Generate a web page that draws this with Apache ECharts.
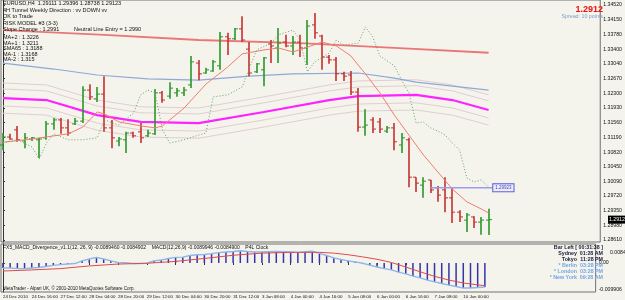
<!DOCTYPE html>
<html>
<head>
<meta charset="utf-8">
<script src="https://cdn.jsdelivr.net/npm/echarts@6/dist/echarts.min.js"></script>
<style>
html, body { margin: 0; padding: 0; background: #f4f4ec; }
#chart { width: 625px; height: 300px; }
</style>
</head>
<body>
<div id="chart"></div>
<script>
// EURUSD H4, 24 Dec 2010 - 10 Jan 2011
var timeTickBars = [0, 4, 8, 12, 16, 20, 24, 28, 32, 36, 40, 44, 48, 52, 56, 60, 64];
var timeLabels = ["24 Dec 2010", "24 Dec 16:00", "27 Dec 12:00", "28 Dec 04:00", "28 Dec 20:00",
  "29 Dec 12:00", "30 Dec 04:00", "30 Dec 20:00", "31 Dec 12:00", "3 Jan 08:00", "4 Jan 00:00",
  "4 Jan 16:00", "5 Jan 08:00", "6 Jan 00:00", "6 Jan 16:00", "7 Jan 08:00", "10 Jan 00:00"];
var priceTicks = [1.34520, 1.34150, 1.33780, 1.33400, 1.33040, 1.32670, 1.32300, 1.31930, 1.31560,
  1.31190, 1.30820, 1.30450, 1.30090, 1.29720, 1.29350, 1.28980, 1.28610];

var barOpen = [1.3100, 1.3120, 1.3138, 1.3110, 1.3115, 1.3113, 1.3118, 1.3153, 1.3163, 1.3143,
  1.3153, 1.3160, 1.3238, 1.3216, 1.3228, 1.3143, 1.3110, 1.3113, 1.3130, 1.3133,
  1.3123, 1.3128, 1.3231, 1.3223, 1.3231, 1.3231, 1.3251, 1.3306, 1.3281, 1.3286,
  1.3299, 1.3372, 1.3367, 1.3392, 1.3341, 1.3284, 1.3289, 1.3354, 1.3344, 1.3359,
  1.3349, 1.3359, 1.3344, 1.3402, 1.3374, 1.3321, 1.3314, 1.3279, 1.3276, 1.3233,
  1.3145, 1.3163, 1.3158, 1.3135, 1.3143, 1.3100, 1.3113, 1.3019, 1.2999, 1.3012,
  1.2992, 1.2987, 1.2967, 1.2931, 1.2911, 1.2919, 1.2906, 1.29111];
var barHigh = [1.3130, 1.3128, 1.3148, 1.3130, 1.3120, 1.3118, 1.3160, 1.3168, 1.3168, 1.3165,
  1.3168, 1.3248, 1.3253, 1.3246, 1.3273, 1.3163, 1.3120, 1.3133, 1.3133, 1.3155,
  1.3138, 1.3241, 1.3236, 1.3258, 1.3243, 1.3246, 1.3324, 1.3314, 1.3294, 1.3314,
  1.3384, 1.3382, 1.3394, 1.3424, 1.3359, 1.3306, 1.3321, 1.3364, 1.3394, 1.3377,
  1.3374, 1.3377, 1.3414, 1.3432, 1.3377, 1.3326, 1.3321, 1.3284, 1.3286, 1.3243,
  1.3190, 1.3170, 1.3168, 1.3148, 1.3155, 1.3130, 1.3118, 1.3019, 1.3019, 1.3012,
  1.2997, 1.3019, 1.2994, 1.2936, 1.2929, 1.2921, 1.2919, 1.29396];
var barLow = [1.3087, 1.3113, 1.3108, 1.3092, 1.3110, 1.3067, 1.3113, 1.3138, 1.3128, 1.3123,
  1.3150, 1.3155, 1.3213, 1.3208, 1.3133, 1.3092, 1.3097, 1.3080, 1.3118, 1.3105,
  1.3120, 1.3125, 1.3206, 1.3216, 1.3221, 1.3223, 1.3243, 1.3263, 1.3279, 1.3284,
  1.3289, 1.3326, 1.3364, 1.3359, 1.3273, 1.3281, 1.3248, 1.3306, 1.3306, 1.3346,
  1.3326, 1.3321, 1.3301, 1.3367, 1.3289, 1.3304, 1.3261, 1.3261, 1.3226, 1.3133,
  1.3123, 1.3130, 1.3130, 1.3130, 1.3087, 1.3080, 1.2994, 1.2982, 1.2967, 1.2979,
  1.2957, 1.2931, 1.2904, 1.2906, 1.2881, 1.2891, 1.2874, 1.28738];
var barClose = [1.3120, 1.3115, 1.3113, 1.3118, 1.3118, 1.3115, 1.3153, 1.3163, 1.3143, 1.3130,
  1.3160, 1.3238, 1.3221, 1.3228, 1.3143, 1.3118, 1.3115, 1.3130, 1.3123, 1.3118,
  1.3130, 1.3231, 1.3213, 1.3243, 1.3236, 1.3238, 1.3309, 1.3279, 1.3289, 1.3309,
  1.3372, 1.3367, 1.3392, 1.3364, 1.3281, 1.3304, 1.3319, 1.3349, 1.3356, 1.3349,
  1.3359, 1.3344, 1.3399, 1.3382, 1.3321, 1.3314, 1.3279, 1.3273, 1.3233, 1.3145,
  1.3150, 1.3140, 1.3140, 1.3143, 1.3108, 1.3118, 1.3019, 1.3004, 1.3009, 1.2987,
  1.2974, 1.2967, 1.2931, 1.2919, 1.2924, 1.2906, 1.2911, 1.29123];

// indicator lines, [bar, price]
var slowMa = [[0, 1.3389], [14, 1.3377], [27, 1.3364], [41, 1.3356], [54, 1.3344], [67, 1.3332]];
var blueMa = [[0, 1.3306], [7, 1.3291], [13, 1.3276], [20, 1.3266], [27, 1.3263], [34, 1.3273],
  [40, 1.3279], [49, 1.3281], [54, 1.3268], [57, 1.3258], [67, 1.3238]];
var sma65 = [[0, 1.3218], [6, 1.3213], [13, 1.3175], [19, 1.3158], [27, 1.3155], [36, 1.3183],
  [45, 1.3213], [49, 1.3223], [57, 1.3226], [62, 1.3213], [67, 1.3188]];
var maPlus2 = [[0, 1.3256], [6, 1.3251], [13, 1.3213], [19, 1.3196], [27, 1.3193], [36, 1.3221],
  [45, 1.3251], [49, 1.3261], [57, 1.3264], [62, 1.3251], [67, 1.3226]];
var maPlus1 = [[0, 1.3241], [6, 1.3236], [13, 1.3198], [19, 1.3181], [27, 1.3178], [36, 1.3206],
  [45, 1.3236], [49, 1.3246], [57, 1.3249], [62, 1.3236], [67, 1.3211]];
var maMinus1 = [[0, 1.3198], [6, 1.3193], [13, 1.3155], [19, 1.3138], [27, 1.3135], [36, 1.3163],
  [45, 1.3193], [49, 1.3203], [57, 1.3206], [62, 1.3193], [67, 1.3168]];
var maMinus2 = [[0, 1.3180], [6, 1.3175], [13, 1.3137], [19, 1.3120], [27, 1.3117], [36, 1.3145],
  [45, 1.3175], [49, 1.3185], [57, 1.3188], [62, 1.3175], [67, 1.3150]];
var fastMa = [[0, 1.3107], [4, 1.3115], [9, 1.3128], [11, 1.3145], [13, 1.3183], [14, 1.3178],
  [16, 1.3158], [19, 1.3148], [21, 1.3143], [22, 1.3148], [25, 1.3193], [28, 1.3253], [31, 1.3296],
  [33, 1.3329], [36, 1.3339], [38, 1.3344], [40, 1.3334], [42, 1.3346], [44, 1.3359], [46, 1.3349],
  [48, 1.3324], [49, 1.3301], [50, 1.3279], [52, 1.3231], [54, 1.3175], [56, 1.3125], [58, 1.3075],
  [60, 1.3032], [62, 1.2989], [64, 1.2957], [66, 1.2939], [67, 1.2929]];
var dottedLine = [[0, 1.3105], [2, 1.3113], [4, 1.3095], [5, 1.3065], [6, 1.3105], [7, 1.3128],
  [9, 1.3113], [11, 1.3113], [13, 1.3118], [14, 1.3163], [16, 1.3150], [18, 1.3180], [19, 1.3226],
  [20, 1.3238], [21, 1.3231], [22, 1.3138], [23, 1.3105], [25, 1.3113], [27, 1.3125], [28, 1.3130],
  [29, 1.3221], [31, 1.3226], [33, 1.3246], [34, 1.3294], [35, 1.3339], [37, 1.3356], [38, 1.3377],
  [40, 1.3389], [41, 1.3364], [42, 1.3284], [43, 1.3309], [45, 1.3331], [46, 1.3364], [47, 1.3351],
  [49, 1.3356], [50, 1.3397], [51, 1.3372], [52, 1.3324], [54, 1.3299], [55, 1.3263], [56, 1.3231],
  [57, 1.3155], [58, 1.3158], [59, 1.3143], [60, 1.3135], [61, 1.3125], [62, 1.3105], [63, 1.3087],
  [64, 1.3017], [65, 1.3007], [66, 1.3012], [67, 1.2994]];
var levelLine = [[59, 1.29923], [67.5, 1.29923]];

// MACD(12,26,9) window
var macdMain = [-0.0019, -0.0019, -0.0021, -0.0021, -0.0019, -0.0017, -0.0013, -0.0009, -0.0006, -0.0004,
  -0.0002, 0.0008, 0.0015, 0.0021, 0.0015, 0.0008, 0.0002, 0.0001, -0.0002, -0.0002,
  -0.0001, 0.0008, 0.0011, 0.0017, 0.0021, 0.0022, 0.0028, 0.0031, 0.0032, 0.0035,
  0.0039, 0.0041, 0.0043, 0.0046, 0.0043, 0.0041, 0.0041, 0.0042, 0.0043, 0.0042,
  0.0041, 0.0040, 0.0042, 0.0044, 0.0036, 0.0028, 0.0019, 0.0013, 0.0008, 0.0004,
  -0.0001, -0.0008, -0.0015, -0.0021, -0.0026, -0.0034, -0.0041, -0.0049, -0.0056, -0.0064,
  -0.0071, -0.0077, -0.0083, -0.0088, -0.0094, -0.0094, -0.0092, -0.0090];
var macdSignal = [[0, -0.0030], [4, -0.0026], [8, -0.0021], [12, -0.0011], [16, -0.0004], [20, -0.0001],
  [24, 0.0006], [28, 0.0017], [32, 0.0029], [36, 0.0037], [40, 0.0040], [44, 0.0040], [46, 0.0037],
  [48, 0.0031], [50, 0.0023], [52, 0.0014], [54, 0.0002], [56, -0.0015], [58, -0.0033], [60, -0.0050],
  [62, -0.0064], [64, -0.0075], [66, -0.0082], [67, -0.0085]];
var macdTicks = [0, -0.0099];

var FONT = '"Liberation Sans", Arial, sans-serif';
var UP = '#2a962a', DOWN = '#c43030';

var ohlc = barOpen.map(function (o, i) {
  return [i, o, barHigh[i], barLow[i], barClose[i]];
});
var macdBars = macdMain.map(function (v, i) { return [i, v]; });

function renderBar(params, api) {
  var i = api.value(0);
  var o = api.coord([i, api.value(1)]);
  var h = api.coord([i, api.value(2)]);
  var l = api.coord([i, api.value(3)]);
  var c = api.coord([i, api.value(4)]);
  var x = Math.round(h[0]);
  var color = api.value(4) >= api.value(1) ? UP : DOWN;
  return {
    type: 'group',
    children: [
      { type: 'line', shape: { x1: x, y1: h[1], x2: x, y2: l[1] }, style: { stroke: color, lineWidth: 1.6 } },
      { type: 'line', shape: { x1: x - 3, y1: o[1], x2: x, y2: o[1] }, style: { stroke: color, lineWidth: 1 } },
      { type: 'line', shape: { x1: x, y1: c[1], x2: x + 3, y2: c[1] }, style: { stroke: color, lineWidth: 1 } }
    ]
  };
}

function lineSeries(data, color, width, extra) {
  var s = {
    type: 'line', xAxisIndex: 0, yAxisIndex: 0, data: data, symbol: 'none',
    lineStyle: { color: color, width: width }, silent: true, z: 2
  };
  for (var k in extra) s[k] = extra[k];
  return s;
}

function txt(x, y, text, size, color, opts) {
  var st = { x: x, y: y, text: text, fontSize: size, fontFamily: FONT, fill: color,
    align: 'left', verticalAlign: 'middle' };
  for (var k in opts) st[k] = opts[k];
  return { type: 'text', silent: true, z: 20, style: st };
}

var chart = echarts.init(document.getElementById('chart'));

var option = {
  animation: false,
  backgroundColor: '#f4f4ec',
  textStyle: { fontFamily: FONT },
  grid: [
    { left: 1, top: 0, width: 606, height: 242, show: true, borderColor: '#707070', borderWidth: 1 },
    { left: 1, top: 244, width: 606, height: 48, show: true, borderColor: '#707070', borderWidth: 1 }
  ],
  xAxis: [
    { type: 'value', gridIndex: 0, min: -0.273, max: 82.4, show: false },
    {
      type: 'value', gridIndex: 1, min: -0.273, max: 82.4,
      splitLine: { show: false }, axisLine: { show: false },
      axisTick: { show: true, customValues: timeTickBars, length: 2, lineStyle: { color: '#333' } },
      axisLabel: {
        customValues: timeTickBars, align: 'left', fontSize: 4.4, color: '#111', margin: 3,
        formatter: function (v) { return timeLabels[timeTickBars.indexOf(v)]; }
      }
    }
  ],
  yAxis: [
    {
      type: 'value', gridIndex: 0, position: 'right', min: 1.2856, max: 1.34646,
      splitLine: { show: false },
      axisLine: { show: true, lineStyle: { color: '#333' } },
      axisTick: { show: true, customValues: priceTicks, length: 2, lineStyle: { color: '#333' } },
      axisLabel: {
        customValues: priceTicks, fontSize: 5.2, color: '#111', margin: 3,
        formatter: function (v) { return v.toFixed(5); }
      }
    },
    {
      type: 'value', gridIndex: 1, position: 'right', min: -0.010875, max: 0.007125,
      splitLine: { show: false },
      axisLine: { show: true, lineStyle: { color: '#333' } },
      axisTick: { show: true, customValues: macdTicks, length: 2, lineStyle: { color: '#333' } },
      axisLabel: {
        customValues: macdTicks, fontSize: 5.2, color: '#111', margin: 3,
        formatter: function (v) { return v === 0 ? '0.00' : '-0.009906'; }
      }
    }
  ],
  series: [
    lineSeries(maPlus2, '#e2cdd2', 1),
    lineSeries(maPlus1, '#e2cdd2', 1),
    lineSeries(maMinus1, '#e2cdd2', 1),
    lineSeries(maMinus2, '#e2cdd2', 1),
    lineSeries(slowMa, '#ea7676', 1.8),
    lineSeries(blueMa, '#8ea8d8', 1.2),
    lineSeries(sma65, '#ff22ff', 2.2),
    {
      type: 'custom', xAxisIndex: 0, yAxisIndex: 0, renderItem: renderBar, data: ohlc,
      encode: { x: 0, y: [1, 2, 3, 4] }, silent: true, z: 3
    },
    lineSeries(fastMa, '#f27c72', 1, { z: 4 }),
    lineSeries(dottedLine, '#63a463', 1, { z: 4, lineStyle: { color: '#63a463', width: 1, type: [1, 2] } }),
    lineSeries(levelLine, '#9c9cec', 1.6, {
      z: 5,
      endLabel: {
        show: true, formatter: '1.29923', fontSize: 4.5, color: '#4444c8', fontFamily: FONT,
        borderColor: '#5a5ad8', borderWidth: 1, backgroundColor: '#ececfa', padding: [1, 2], distance: 1
      }
    }),
    {
      type: 'bar', xAxisIndex: 1, yAxisIndex: 1, data: macdBars, barWidth: 1.5,
      itemStyle: { color: '#3535a8' }, silent: true
    },
    {
      type: 'line', xAxisIndex: 1, yAxisIndex: 1, data: macdBars, symbol: 'none',
      lineStyle: { color: '#8db6ea', width: 1.4 }, silent: true, z: 3
    },
    {
      type: 'line', xAxisIndex: 1, yAxisIndex: 1, data: macdSignal, symbol: 'none',
      lineStyle: { color: '#e24a4a', width: 1 }, silent: true, z: 4
    }
  ]
};

chart.setOption(option);

// current price tag on the axis
var lastClose = barClose[barClose.length - 1];
var tagY = chart.convertToPixel({ yAxisIndex: 0 }, lastClose);

var graphics = [
  txt(3, 3.5, 'EURUSD,H4  1.29111 1.29396 1.28738 1.29123', 5.5, '#111'),
  txt(3, 10, '4H Tunnel Weekly Direction : vv DOWN vv', 5.5, '#111'),
  txt(3, 16.5, 'OK to Trade', 5.5, '#111'),
  txt(3, 23, 'RISK MODEL #3 (3-3)', 5.5, '#111'),
  txt(3, 29.5, 'Slope Change : 1.2991', 5.5, '#111'),
  txt(74, 29.5, 'Neutral Line Entry = 1.2990', 5.5, '#111'),
  txt(3, 37.5, 'MA+2 : 1.3226', 5.5, '#111'),
  txt(3, 43, 'MA+1 : 1.3211', 5.5, '#111'),
  txt(3, 48.5, 'SMA65 : 1.3188', 5.5, '#111'),
  txt(3, 54, 'MA-1 : 1.3168', 5.5, '#111'),
  txt(3, 59.5, 'MA-2 : 1.315', 5.5, '#111'),
  txt(603, 9.5, '1.2912', 9, '#ee1111', { align: 'right', fontWeight: 'bold' }),
  txt(603, 17, 'Spread: 10 points', 5.3, '#7b9ccc', { align: 'right' }),
  txt(3, 247.7, 'FX5_MACD_Divergence_v1.1(12, 26, 9) -0.0089460 -0.0084902    MACD(12,26,9) -0.0089946 -0.0084900    P4L Clock', 5, '#111'),
  txt(3, 288.3, 'MetaTrader - Alpari UK, \u00a9 2001-2010 MetaQuotes Software Corp.', 4.5, '#111'),
  txt(610, 252.7, '0.008446', 5.2, '#111'),
  txt(603, 247.7, 'Bar Left [ 00:31:38 ]', 5.3, '#1c1c3c', { align: 'right', fontWeight: 'bold' }),
  txt(577, 253.7, 'Sydney', 5.3, '#1c1c3c', { align: 'right', fontWeight: 'bold' }),
  txt(603, 253.7, '01:28 AM', 5.3, '#1c1c3c', { align: 'right', fontWeight: 'bold' }),
  txt(577, 259.7, 'Tokyo', 5.3, '#1c1c3c', { align: 'right', fontWeight: 'bold' }),
  txt(603, 259.7, '11:28 PM', 5.3, '#1c1c3c', { align: 'right', fontWeight: 'bold' }),
  txt(577, 265.7, '* Berlin', 5.3, '#74a4e4', { align: 'right', fontWeight: 'bold' }),
  txt(603, 265.7, '03:28 PM', 5.3, '#74a4e4', { align: 'right', fontWeight: 'bold' }),
  txt(577, 271.7, '* London', 5.3, '#74a4e4', { align: 'right', fontWeight: 'bold' }),
  txt(603, 271.7, '03:28 PM', 5.3, '#74a4e4', { align: 'right', fontWeight: 'bold' }),
  txt(577, 277.7, '* New York', 5.3, '#74a4e4', { align: 'right', fontWeight: 'bold' }),
  txt(603, 277.7, '09:28 AM', 5.3, '#74a4e4', { align: 'right', fontWeight: 'bold' }),
  { type: 'rect', silent: true, z: 19, shape: { x: 608, y: tagY - 4, width: 17, height: 8 }, style: { fill: '#000' } },
  txt(609, tagY, lastClose.toFixed(5), 5.2, '#fff')
];

chart.setOption({ graphic: graphics });
</script>
</body>
</html>
